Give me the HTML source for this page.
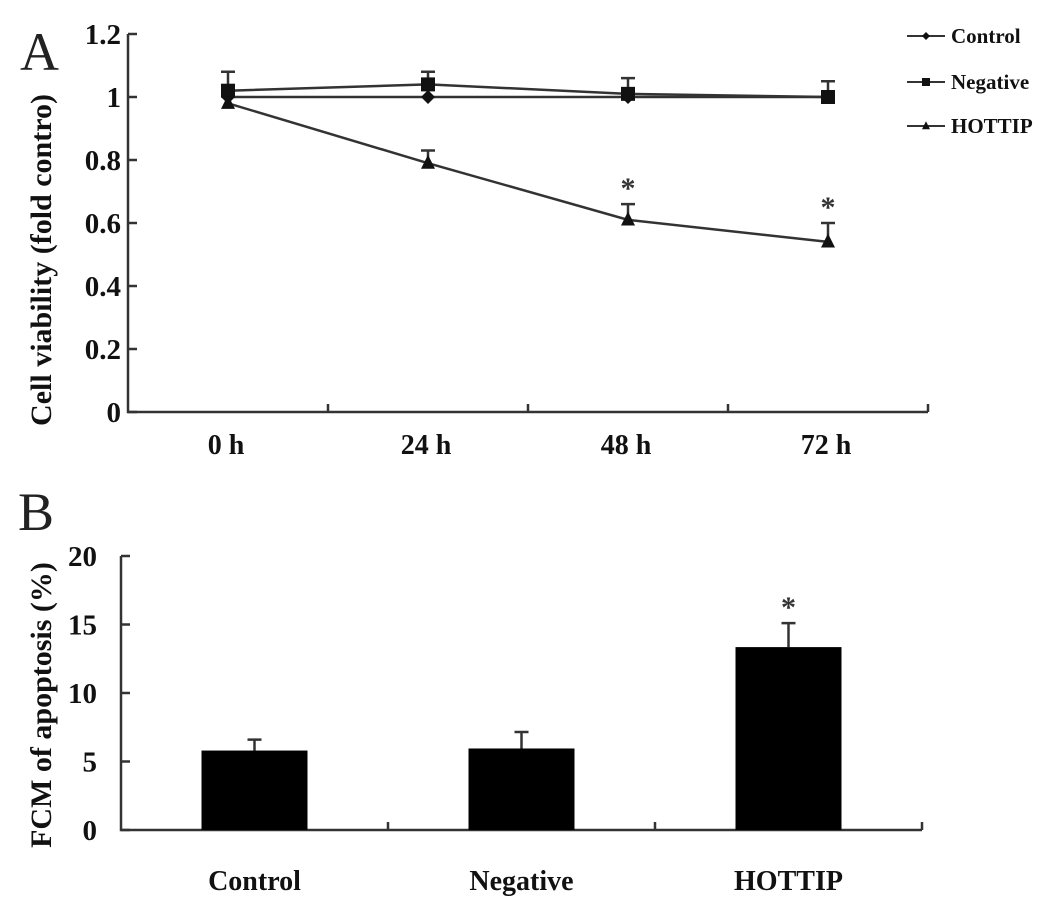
<!DOCTYPE html>
<html><head><meta charset="utf-8"><style>
body{margin:0;background:#fff}
svg{display:block;font-family:"Liberation Serif",serif}
.t{font-weight:bold;fill:#111}
</style></head><body>
<svg id="s" width="1063" height="917" viewBox="0 0 1063 917">
<text x="20" y="70" font-size="54" fill="#222">A</text>
<text x="18" y="530" font-size="54" fill="#222">B</text>
<text class="t" font-size="30" transform="translate(51,260) rotate(-90)" text-anchor="middle">Cell viability (fold contro)</text>
<text class="t" font-size="30" transform="translate(51,705) rotate(-90)" text-anchor="middle">FCM of apoptosis (%)</text>
<g id="ga"></g><g id="gb"></g>
</svg>
<script>
const timeLabels=["0 h","24 h","48 h","72 h"];
const controlVals=[1.0,1.0,1.0,1.0];
const controlErr=[0,0,0,0];
const negativeVals=[1.02,1.04,1.01,1.0];
const negativeErr=[0.06,0.04,0.05,0.05];
const hottipVals=[0.98,0.79,0.61,0.54];
const hottipErr=[0.0,0.04,0.05,0.06];
const hottipSig=[false,false,true,true];
const yTicksA=[0,0.2,0.4,0.6,0.8,1,1.2];
const groups=["Control","Negative","HOTTIP"];
const apoVals=[5.8,5.95,13.35];
const apoErr=[0.8,1.2,1.75];
const apoSig=[false,false,true];
const yTicksB=[0,5,10,15,20];

const NS="http://www.w3.org/2000/svg";
function mk(p,tag,a,txt){const e=document.createElementNS(NS,tag);for(const k in a)e.setAttribute(k,a[k]);if(txt!=null)e.textContent=txt;p.appendChild(e);return e;}
const stroke={stroke:"#333","stroke-width":2.5,fill:"none"};

// Panel A
const ga=document.getElementById('ga');
const AX0=128,AX1=928,AY0=412,AY1=34;
const ya=v=>AY0-(v/1.2)*(AY0-AY1);
const bwA=(AX1-AX0)/timeLabels.length;
const xa=i=>AX0+bwA*(i+0.5);
let e=mk(ga,'path',Object.assign({d:`M${AX0},${AY1} V${AY0} H${AX1}`},stroke));


yTicksA.forEach(v=>{
  mk(ga,'line',Object.assign({x1:AX0,x2:AX0+9,y1:ya(v),y2:ya(v)},stroke));
  const t=mk(ga,'text',{x:121,y:ya(v)+10,'text-anchor':'end','font-size':29,class:'t'},String(v));
  
  
});
for(let i=1;i<=timeLabels.length;i++){mk(ga,'line',Object.assign({x1:AX0+bwA*i,x2:AX0+bwA*i,y1:AY0,y2:AY0-8},stroke));}
timeLabels.forEach((l,i)=>{
  const t=mk(ga,'text',{x:xa(i)-2,y:454,'text-anchor':'middle','font-size':28,class:'t'},l);
  
  
});
function marker(p,type,x,y,s){
  if(type==='d')return mk(p,'path',{d:`M${x},${y-s} L${x+s},${y} L${x},${y+s} L${x-s},${y}Z`,fill:'#111'});
  if(type==='s')return mk(p,'rect',{x:x-s,y:y-s,width:2*s,height:2*s,fill:'#111'});
  return mk(p,'path',{d:`M${x},${y-s*1.2} L${x+s},${y+s*0.8} L${x-s},${y+s*0.8}Z`,fill:'#111'});
}
function series(vals,errs,type,name){
  const g=mk(ga,'g',{});
  
  
  mk(g,'polyline',Object.assign({points:vals.map((v,i)=>xa(i)+','+ya(v)).join(' ')},stroke));
  vals.forEach((v,i)=>{
    if(errs[i]>0){const yt=ya(v+errs[i]);mk(g,'path',Object.assign({d:`M${xa(i)},${ya(v)} V${yt} M${xa(i)-7},${yt} H${xa(i)+7}`},stroke));}
    const m=marker(g,type,xa(i),ya(v),7);
    
    
  });
}
series(controlVals,controlErr,'d','control');
series(negativeVals,negativeErr,'s','negative');
series(hottipVals,hottipErr,'t','hottip');
hottipSig.forEach((s,i)=>{if(s){const t=mk(ga,'text',{x:xa(i),y:ya(hottipVals[i]+hottipErr[i])-6,'text-anchor':'middle','font-size':30,'font-weight':'bold',fill:'#333'},'*');
  
  }});
// legend
[['Control','d',36],['Negative','s',82],['HOTTIP','t',126]].forEach(([l,tp,y])=>{
  const g=mk(ga,'g',{});
  
  
  mk(g,'line',{x1:907,x2:945,y1:y,y2:y,stroke:'#333','stroke-width':2});
  marker(g,tp,926,y,4);
  mk(g,'text',{x:951,y:y+7,'font-size':21,class:'t'},l);
});

// Panel B
const gb=document.getElementById('gb');
const BX0=121,BX1=922,BY0=830,BY1=556;
const yb=v=>BY0-(v/20)*(BY0-BY1);
const bwB=(BX1-BX0)/groups.length;
const xb=i=>BX0+bwB*(i+0.5);
e=mk(gb,'path',Object.assign({d:`M${BX0},${BY1} V${BY0} H${BX1}`},stroke));


yTicksB.forEach(v=>{
  mk(gb,'line',Object.assign({x1:BX0,x2:BX0+9,y1:yb(v),y2:yb(v)},stroke));
  const t=mk(gb,'text',{x:97,y:yb(v)+10,'text-anchor':'end','font-size':29,class:'t'},String(v));
  
  
});
for(let i=1;i<=groups.length;i++){mk(gb,'line',Object.assign({x1:BX0+bwB*i,x2:BX0+bwB*i,y1:BY0,y2:BY0-8},stroke));}
groups.forEach((l,i)=>{
  const t=mk(gb,'text',{x:xb(i),y:890,'text-anchor':'middle','font-size':28,class:'t'},l);
  
  
  mk(gb,'path',Object.assign({d:`M${xb(i)},${yb(apoVals[i])} V${yb(apoVals[i]+apoErr[i])} M${xb(i)-7},${yb(apoVals[i]+apoErr[i])} H${xb(i)+7}`},stroke));
  const r=mk(gb,'rect',{x:xb(i)-53,y:yb(apoVals[i]),width:106,height:BY0-yb(apoVals[i]),fill:'#000'});
  
  
  if(apoSig[i]){const s=mk(gb,'text',{x:xb(i),y:yb(apoVals[i]+apoErr[i])-6,'text-anchor':'middle','font-size':30,'font-weight':'bold',fill:'#333'},'*');
    
    }
});
</script>
</body></html>
